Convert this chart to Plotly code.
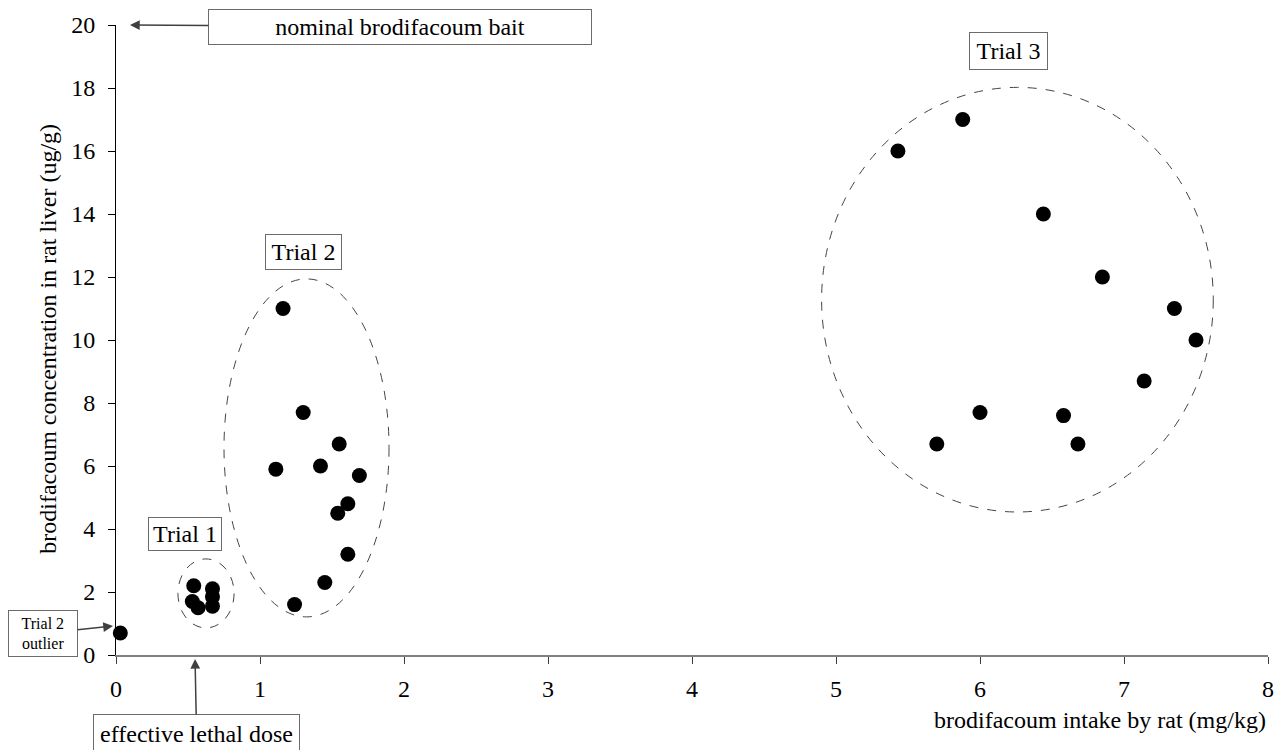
import plotly.graph_objects as go

# Brodifacoum intake (mg/kg) vs liver concentration (ug/g), one list pair per trial
trial1_intake = [0.54, 0.53, 0.57, 0.67, 0.67, 0.67]
trial1_liver = [2.2, 1.7, 1.5, 2.1, 1.85, 1.55]

trial2_intake = [1.16, 1.30, 1.55, 1.11, 1.42, 1.69, 1.61, 1.54, 1.61, 1.45, 1.24]
trial2_liver = [11.0, 7.7, 6.7, 5.9, 6.0, 5.7, 4.8, 4.5, 3.2, 2.3, 1.6]

trial3_intake = [5.88, 5.43, 6.44, 6.85, 7.35, 7.50, 7.14, 6.00, 6.58, 5.70, 6.68]
trial3_liver = [17.0, 16.0, 14.0, 12.0, 11.0, 10.0, 8.7, 7.7, 7.6, 6.7, 6.7]

outlier_intake = [0.03]
outlier_liver = [0.7]

x_ticks = [0, 1, 2, 3, 4, 5, 6, 7, 8]
y_ticks = [0, 2, 4, 6, 8, 10, 12, 14, 16, 18, 20]

FONT = "Liberation Serif"
BOX = "#6b6b6b"
ARROW = "#404040"

fig = go.Figure()
for xs, ys in [(trial1_intake, trial1_liver), (trial2_intake, trial2_liver),
               (trial3_intake, trial3_liver), (outlier_intake, outlier_liver)]:
    fig.add_trace(go.Scatter(
        x=xs, y=ys, mode="markers",
        marker=dict(size=15, color="black", line=dict(width=0)),
        cliponaxis=False, showlegend=False, hoverinfo="x+y"))

# dashed outlines grouping each trial
groups = [
    dict(x0=0.43, x1=0.82, y0=0.86, y1=3.05),
    dict(x0=0.75, x1=1.896, y0=1.21, y1=11.94),
    dict(x0=4.90, x1=7.62, y0=4.54, y1=18.02),
]
for g in groups:
    fig.add_shape(type="circle", xref="x", yref="y", **g,
                  line=dict(color="#444444", width=1, dash="dash"))

box_style = dict(bordercolor=BOX, borderwidth=1, borderpad=1, bgcolor="white",
                 font=dict(family=FONT, size=24, color="black"))
arrow_style = dict(showarrow=True, arrowhead=2, arrowsize=1.3, arrowwidth=1.5,
                   arrowcolor=ARROW)

annotations = [
    dict(x=0.479, y=3.84, text="Trial 1", showarrow=False, width=70, height=30, **box_style),
    dict(x=1.302, y=12.78, text="Trial 2", showarrow=False, width=73, height=32, **box_style),
    dict(x=6.198, y=19.16, text="Trial 3", showarrow=False, width=75, height=34, **box_style),
    dict(x=0.097, y=20.0, ax=1.972, ay=19.94, axref="x", ayref="y",
         text="nominal brodifacoum bait", width=380, height=32, **arrow_style, **box_style),
    dict(x=0.549, y=-0.0063, xref="x", yref="paper", ax=1.5, ay=75,
         text="effective lethal dose", width=203, height=36, **arrow_style, **box_style),
    dict(x=-0.0026, y=0.92, xref="paper", yref="y", ax=-70, ay=7.5,
         text="Trial 2<br>outlier", width=66, height=43, **arrow_style,
         bordercolor=BOX, borderwidth=1, borderpad=1, bgcolor="white",
         font=dict(family=FONT, size=16, color="black")),
    # axis titles
    dict(x=1.0, y=-0.103, xref="paper", yref="paper", xanchor="right", yanchor="middle",
         text="brodifacoum intake by rat (mg/kg)", showarrow=False,
         font=dict(family=FONT, size=24, color="black")),
    dict(x=-0.059, y=0.502, xref="paper", yref="paper", xanchor="center", yanchor="middle",
         textangle=-90, text="brodifacoum concentration in rat liver (ug/g)", showarrow=False,
         font=dict(family=FONT, size=24, color="black")),
]
for a in annotations:
    fig.add_annotation(**a)

fig.update_layout(
    width=1288, height=750,
    margin=dict(l=116, r=20, t=25, b=95),
    paper_bgcolor="white", plot_bgcolor="white",
    font=dict(family=FONT, size=24, color="black"),
    showlegend=False,
    xaxis=dict(range=[0, 8], tickvals=x_ticks, ticktext=[str(v) for v in x_ticks],
               showgrid=False, zeroline=False, showline=True, linecolor="#808080",
               linewidth=2, ticks="outside", ticklen=7, tickcolor="#404040", tickwidth=1,
               ticklabelstandoff=4, tickfont=dict(family=FONT, size=24, color="black")),
    yaxis=dict(range=[0, 20], tickvals=y_ticks, ticktext=[str(v) for v in y_ticks],
               showgrid=False, zeroline=False, showline=True, linecolor="black",
               linewidth=1, ticks="outside", ticklen=7, tickcolor="black", tickwidth=1,
               ticklabelstandoff=8, tickfont=dict(family=FONT, size=24, color="black")),
)

fig.write_html("out.html")
